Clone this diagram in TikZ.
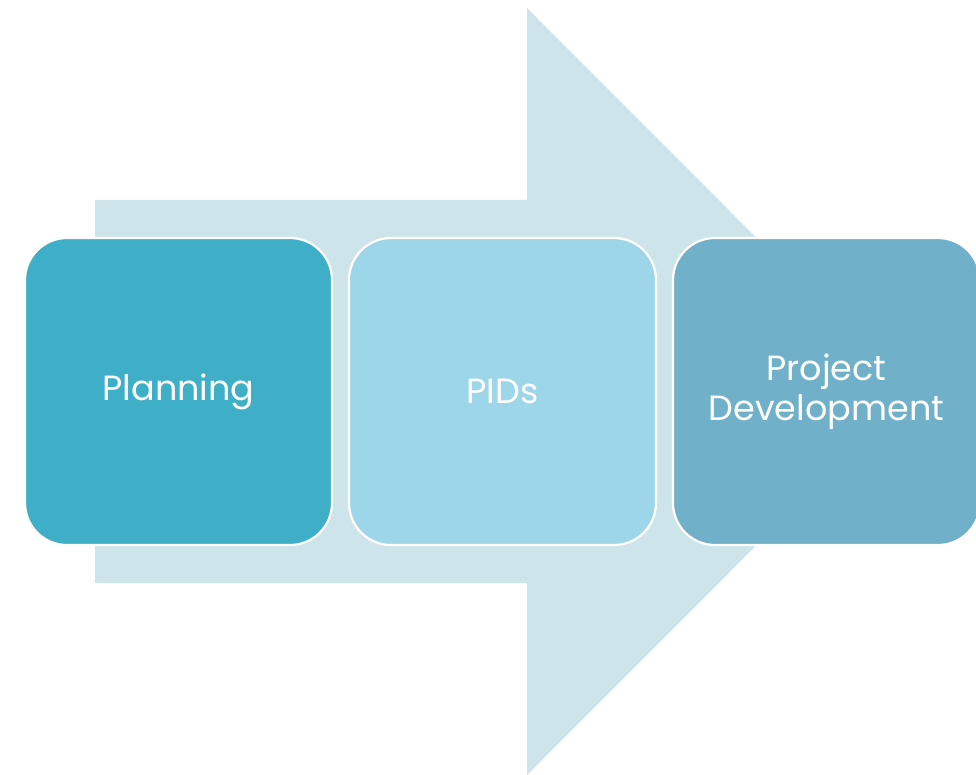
\documentclass[tikz,border=0pt]{standalone}
\usepackage{fontspec}
\setmainfont{Poppins}
\definecolor{arrowc}{HTML}{CDE4EA}
\definecolor{boxa}{HTML}{3FAFC8}
\definecolor{boxb}{HTML}{9DD6E8}
\definecolor{boxc}{HTML}{70B0C8}
\tikzset{
  stagebox/.style={draw=white, line width=2.2pt, rounded corners=42pt, minimum width=307pt, minimum height=307pt, inner sep=0pt, text=white, align=center, font=\fontsize{35}{40}\selectfont},
}
\begin{document}
\begin{tikzpicture}[x=1pt,y=-1pt]
\useasboundingbox (0,0) rectangle (976,775);
\fill[arrowc] (95,200) -- (527,200) -- (527,8) -- (910,391.5) -- (527,775) -- (527,583) -- (95,583) -- cycle;
\node[stagebox, fill=boxa] (planning) at (178.5,391.5) {Planning};
\node[stagebox, fill=boxb] (pids) at (502.5,391.5) {PIDs};
\node[stagebox, fill=boxc, minimum width=307pt] (projdev) at (826.5,391.5) {Project\\Development};
\end{tikzpicture}
\end{document}
